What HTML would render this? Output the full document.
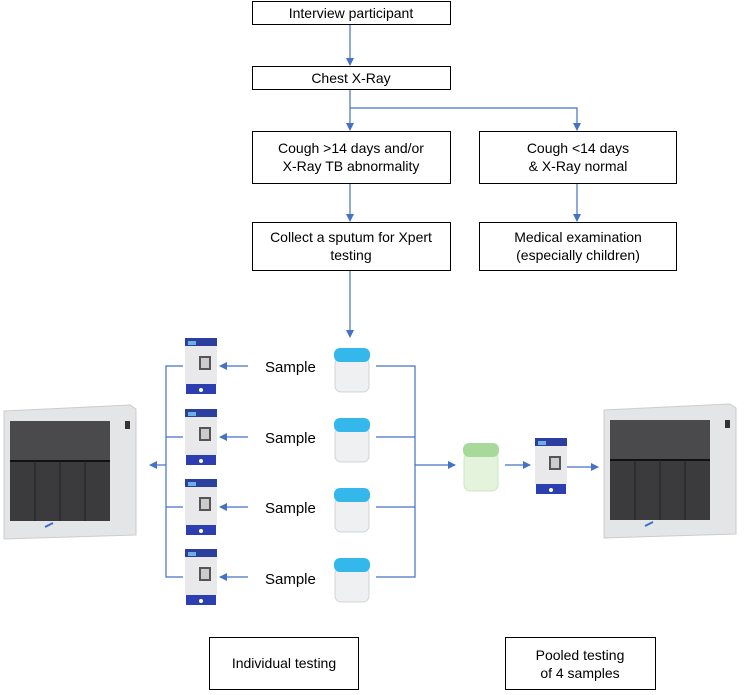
<!DOCTYPE html>
<html><head><style>
body{margin:0;background:#fff;width:745px;height:690px;overflow:hidden}
svg text{font-family:"Liberation Sans",Arial,sans-serif;fill:#000}
</style></head><body>
<svg width="745" height="690" viewBox="0 0 745 690" xmlns="http://www.w3.org/2000/svg">
<defs>
<marker id="a" markerWidth="8" markerHeight="8" refX="7" refY="4" orient="auto" markerUnits="userSpaceOnUse"><path d="M0,0 L8,4 L0,8 z" fill="#4472c4"/></marker>
<g id="cart">
<rect x="0" y="0" width="32" height="8" fill="#2c3f9e"/>
<rect x="0" y="8" width="32" height="38" fill="#e9e8ea"/>
<rect x="3" y="3" width="8" height="4" fill="#6ab0e0"/>
<rect x="14" y="18" width="12" height="14" fill="#555"/>
<rect x="16" y="20" width="8" height="10" fill="#ccc"/>
<rect x="1" y="46" width="30" height="10" fill="#2d3fb0"/>
<circle cx="16" cy="52" r="2" fill="#fff"/>
</g>
<g id="jar">
<rect x="1" y="10" width="34" height="34" rx="6" fill="#eef0f2" stroke="#d0d4d8"/>
<rect x="0" y="0" width="36" height="14" rx="6" fill="#34b8ec"/>
</g>
<g id="mach">
<path d="M4,8 L130,2 L136,6 L136,132 L4,136 Z" fill="#e4e5e7" stroke="#ccc"/>
<rect x="10" y="18" width="100" height="100" fill="#3b3b3d"/>
<rect x="10" y="18" width="100" height="40" fill="#4a4a4c"/>
<line x1="10" y1="58" x2="110" y2="58" stroke="#111" stroke-width="2"/>
<line x1="35" y1="58" x2="35" y2="118" stroke="#222"/>
<line x1="60" y1="58" x2="60" y2="118" stroke="#222"/>
<line x1="85" y1="58" x2="85" y2="118" stroke="#222"/>
<rect x="125" y="18" width="5" height="8" fill="#333"/>
<path d="M45,124 l8,-4" stroke="#3a6fd0" stroke-width="2"/>
</g>
</defs>
<g fill="#fff" stroke="#000" stroke-width="1">
<rect x="252.5" y="1.5" width="198" height="23"/>
<rect x="252.5" y="66.5" width="198" height="23"/>
<rect x="252.5" y="131.5" width="198" height="52"/>
<rect x="479.5" y="131.5" width="197" height="52"/>
<rect x="252.5" y="222.5" width="198" height="48"/>
<rect x="479.5" y="222.5" width="197" height="48"/>
<rect x="209.5" y="637.5" width="149" height="52"/>
<rect x="505.5" y="637.5" width="150" height="52"/>
</g>
<g font-size="14" text-anchor="middle">
<text x="351" y="18">Interview participant</text>
<text x="351" y="83">Chest X-Ray</text>
<text x="351" y="153">Cough &gt;14 days and/or</text>
<text x="351" y="171">X-Ray TB abnormality</text>
<text x="578" y="153">Cough &lt;14 days</text>
<text x="578" y="171">&amp; X-Ray normal</text>
<text x="351" y="242">Collect a sputum for Xpert</text>
<text x="351" y="260">testing</text>
<text x="578" y="242">Medical examination</text>
<text x="578" y="260">(especially children)</text>
<text x="284" y="668">Individual testing</text>
<text x="580" y="660">Pooled testing</text>
<text x="580" y="678">of 4 samples</text>
</g>
<g stroke="#4472c4" stroke-width="1.2" fill="none">
<line x1="350" y1="25" x2="350" y2="65" marker-end="url(#a)"/>
<line x1="350" y1="90" x2="350" y2="130" marker-end="url(#a)"/>
<polyline points="350,108 577,108 577,130" marker-end="url(#a)"/>
<line x1="350" y1="184" x2="350" y2="221" marker-end="url(#a)"/>
<line x1="577" y1="184" x2="577" y2="221" marker-end="url(#a)"/>
<line x1="350" y1="271" x2="350" y2="337" marker-end="url(#a)"/>
<polyline points="183,366 166,366 166,577 183,577"/>
<line x1="166" y1="437" x2="183" y2="437"/>
<line x1="166" y1="507" x2="183" y2="507"/>
<line x1="166" y1="465" x2="150" y2="465" marker-end="url(#a)"/>
<line x1="248" y1="366" x2="220" y2="366" marker-end="url(#a)"/>
<line x1="248" y1="437" x2="220" y2="437" marker-end="url(#a)"/>
<line x1="248" y1="507" x2="220" y2="507" marker-end="url(#a)"/>
<line x1="248" y1="577" x2="220" y2="577" marker-end="url(#a)"/>
<polyline points="376,366 415,366 415,577 376,577"/>
<line x1="376" y1="437" x2="415" y2="437"/>
<line x1="376" y1="507" x2="415" y2="507"/>
<line x1="415" y1="465" x2="455" y2="465" marker-end="url(#a)"/>
<line x1="505" y1="465" x2="530" y2="465" marker-end="url(#a)"/>
<line x1="567" y1="467" x2="598" y2="467" marker-end="url(#a)"/>
</g>
<g font-size="15">
<text x="265" y="372">Sample</text>
<text x="265" y="443">Sample</text>
<text x="265" y="513">Sample</text>
<text x="265" y="584">Sample</text>
</g>
<use href="#cart" x="185" y="338"/>
<use href="#cart" x="185" y="409"/>
<use href="#cart" x="185" y="479"/>
<use href="#cart" x="185" y="549"/>
<use href="#jar" x="334" y="348"/>
<use href="#jar" x="334" y="418"/>
<use href="#jar" x="334" y="488"/>
<use href="#jar" x="334" y="558"/>
<g transform="translate(463,443)">
<rect x="1" y="10" width="34" height="38" rx="6" fill="#e3f3dc" stroke="#cfe6c6"/>
<rect x="0" y="0" width="36" height="14" rx="6" fill="#a8d99a"/>
</g>
<use href="#cart" x="535" y="438"/>
<use href="#mach" x="0" y="403"/>
<use href="#mach" x="600" y="402"/>
</svg>
</body></html>
